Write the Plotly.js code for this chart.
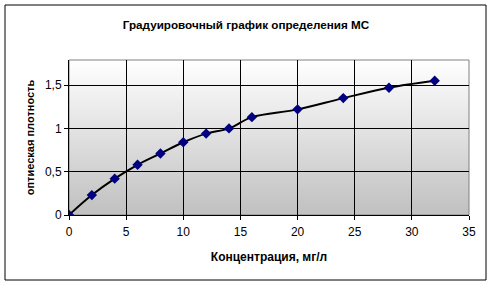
<!DOCTYPE html>
<html>
<head>
<meta charset="utf-8">
<script src="https://cdn.plot.ly/plotly-3.0.1.min.js"></script>
<style>html,body{margin:0;padding:0;background:#fff;}#chart{width:494px;height:286px;}</style>
</head>
<body>
<div id="chart"></div>
<script>
// Data
const concentration = [0, 2, 4, 6, 8, 10, 12, 14, 16, 20, 24, 28, 32];
const density = [0, 0.23, 0.42, 0.58, 0.71, 0.84, 0.94, 1.0, 1.13, 1.22, 1.35, 1.47, 1.55];
const xTicks = [0, 5, 10, 15, 20, 25, 30, 35];
const yTicks = [0, 0.5, 1, 1.5];

const chartTitle = 'Градуировочный график определения МС';
const xTitle = 'Концентрация, мг/л';
const yTitle = 'оптиеская плотность';

const gradSvg = '<svg xmlns="http://www.w3.org/2000/svg" width="100" height="100" preserveAspectRatio="none">' +
  '<defs><linearGradient id="g" x1="0" y1="0" x2="0" y2="1">' +
  '<stop offset="0" stop-color="#ffffff"/><stop offset="1" stop-color="#c0c0c0"/></linearGradient></defs>' +
  '<rect width="100" height="100" fill="url(#g)"/></svg>';
const gradUri = 'data:image/svg+xml;base64,' + btoa(gradSvg);

const font = 'Arial, "Liberation Sans", sans-serif';

const traces = [
  {
    x: concentration, y: density, type: 'scatter', mode: 'lines',
    line: {color: '#000000', width: 2, shape: 'spline', smoothing: 1},
    hoverinfo: 'skip', showlegend: false
  },
  {
    x: concentration, y: density, type: 'scatter', mode: 'markers',
    marker: {symbol: 'diamond', size: 8, color: '#000080', line: {width: 0}},
    showlegend: false
  }
];

const layout = {
  width: 494, height: 286,
  margin: {l: 69, r: 25, t: 60, b: 71, pad: 0},
  paper_bgcolor: '#ffffff',
  plot_bgcolor: 'rgba(0,0,0,0)',
  separators: ', ',
  font: {family: font, size: 12, color: '#000000'},
  title: {
    text: '<b>' + chartTitle + '</b>',
    font: {family: font, size: 11.7, color: '#000000'},
    x: 0.498, xanchor: 'center', xref: 'container',
    y: 1 - 25 / 286, yanchor: 'middle', yref: 'container'
  },
  xaxis: {
    range: [0, 35], tickvals: xTicks, ticktext: xTicks.map(String),
    showgrid: true, gridcolor: '#000000', gridwidth: 1,
    showline: true, linecolor: '#000000', linewidth: 1,
    ticks: 'outside', ticklen: 4, tickcolor: '#000000',
    zeroline: false, fixedrange: true,
    tickfont: {family: font, size: 12, color: '#000000'},
    ticklabelstandoff: 2,
    title: {text: '<b>' + xTitle + '</b>', font: {family: font, size: 12, color: '#000000'}, standoff: 14}
  },
  yaxis: {
    range: [0, 1.79], tickvals: yTicks, ticktext: yTicks.map(v => String(v).replace('.', ',')),
    showgrid: true, gridcolor: '#000000', gridwidth: 1,
    showline: true, linecolor: '#000000', linewidth: 1,
    ticks: 'outside', ticklen: 4, tickcolor: '#000000',
    zeroline: false, fixedrange: true,
    tickfont: {family: font, size: 12, color: '#000000'},
    title: {text: '<b>' + yTitle + '</b>', font: {family: font, size: 11, color: '#000000'}, standoff: 8}
  },
  images: [{
    source: gradUri, xref: 'paper', yref: 'paper', x: 0, y: 1, sizex: 1, sizey: 1,
    xanchor: 'left', yanchor: 'top', sizing: 'stretch', layer: 'below'
  }],
  shapes: [
    {type: 'rect', xref: 'paper', yref: 'paper', x0: 0, x1: 1, y0: 0, y1: 1,
     line: {color: '#808080', width: 1}, layer: 'below'},
    {type: 'rect', xref: 'paper', yref: 'paper',
     x0: (5 - 69) / 400, x1: (486 - 69) / 400, y0: (215 - 280) / 155, y1: (215 - 5) / 155,
     line: {color: '#000000', width: 1}, layer: 'below'}
  ],
  showlegend: false
};

Plotly.newPlot('chart', traces, layout, {displayModeBar: false, staticPlot: true});
</script>
</body>
</html>
